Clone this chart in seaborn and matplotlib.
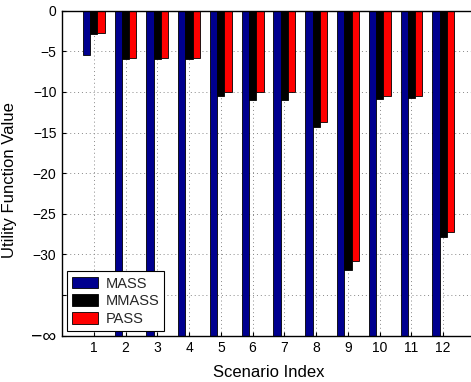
import numpy as np
import pandas as pd
import matplotlib
matplotlib.use("Agg")
import matplotlib.pyplot as plt
from matplotlib.patches import Patch
import seaborn as sns

# Utility function value per scenario and method (-inf = infeasible)
scenarios = list(range(1, 13))
mass = [-5.5] + [-np.inf] * 11
mmass = [-2.85, -5.9, -5.9, -5.95, -10.45, -11.0, -11.0, -14.3, -31.9, -10.85, -10.7, -27.8]
pass_vals = [-2.8, -5.85, -5.8, -5.8, -10.05, -10.05, -10.05, -13.65, -30.75, -10.55, -10.55, -27.25]

methods = ["MASS", "MMASS", "PASS"]
colors = {"MASS": "#00008F", "MMASS": "#000000", "PASS": "#FF0000"}

# the lowest visible level stands for -inf
FLOOR = -40
ytick_vals = [0, -5, -10, -15, -20, -25, -30, -35, -40]
ytick_labels = ["0", "\u22125", "\u221210", "\u221215", "\u221220", "\u221225", "\u221230", "", "\u2212\u221e"]

rows = []
for name, vals in zip(methods, [mass, mmass, pass_vals]):
    for s, v in zip(scenarios, vals):
        rows.append({"Scenario": s, "Method": name, "Value": max(v, FLOOR)})
df = pd.DataFrame(rows)

sns.set_theme(style="white")
plt.rcParams["font.family"] = ["Liberation Sans", "DejaVu Sans"]
plt.rcParams["font.size"] = 10

fig = plt.figure(figsize=(4.71, 3.82), dpi=100)
ax = fig.add_axes([62 / 471, 1 - 335.7 / 382, 413 / 471, 325 / 382])

sns.barplot(data=df, x="Scenario", y="Value", hue="Method", hue_order=methods,
            palette=colors, native_scale=True, width=0.69, gap=0,
            edgecolor="black", linewidth=0.6, saturation=1, errorbar=None,
            legend=False, ax=ax, zorder=2)

ax.set_xlim(0, 13)
ax.set_ylim(FLOOR, 0)
ax.set_xticks(scenarios)
ax.set_xticklabels([str(s) for s in scenarios])
ax.set_yticks(ytick_vals)
ax.set_yticklabels(ytick_labels)

ax.grid(True, linestyle=(0, (1, 3)), color="#888888", linewidth=0.7, zorder=0)
ax.set_axisbelow(True)

for side in ["top", "left", "bottom"]:
    ax.spines[side].set_visible(True)
    ax.spines[side].set_color("black")
    ax.spines[side].set_linewidth(1.0)
ax.spines["right"].set_visible(False)

ax.tick_params(axis="both", direction="in", length=3, width=0.8, color="black",
               labelsize=10, labelcolor="black", pad=4)
ax.tick_params(axis="x", bottom=True)
ax.tick_params(axis="y", left=True)
# the infinity label is set larger, as a symbol
ax.get_yticklabels()[-1].set_fontsize(14)

ax.set_xlabel("Scenario Index", fontsize=12, color="black")
ax.set_ylabel("Utility Function Value", fontsize=12, color="black")
ax.xaxis.set_label_coords(0.5, -0.09)
ax.yaxis.set_label_coords(-0.108, 0.479)

handles = [Patch(facecolor=colors[m], edgecolor="black", linewidth=0.6, label=m) for m in methods]
leg = ax.legend(handles=handles, loc="lower left", bbox_to_anchor=(0.012, 0.0145),
                borderaxespad=0, frameon=True, fancybox=False, fontsize=10.5,
                handlelength=1.8, handleheight=0.87, handletextpad=0.5,
                labelspacing=0.25, borderpad=0.35)
leg.get_frame().set_edgecolor("black")
leg.get_frame().set_linewidth(0.8)
leg.get_frame().set_facecolor("white")
leg.get_frame().set_alpha(1)

fig.savefig("out.png", dpi=100)
